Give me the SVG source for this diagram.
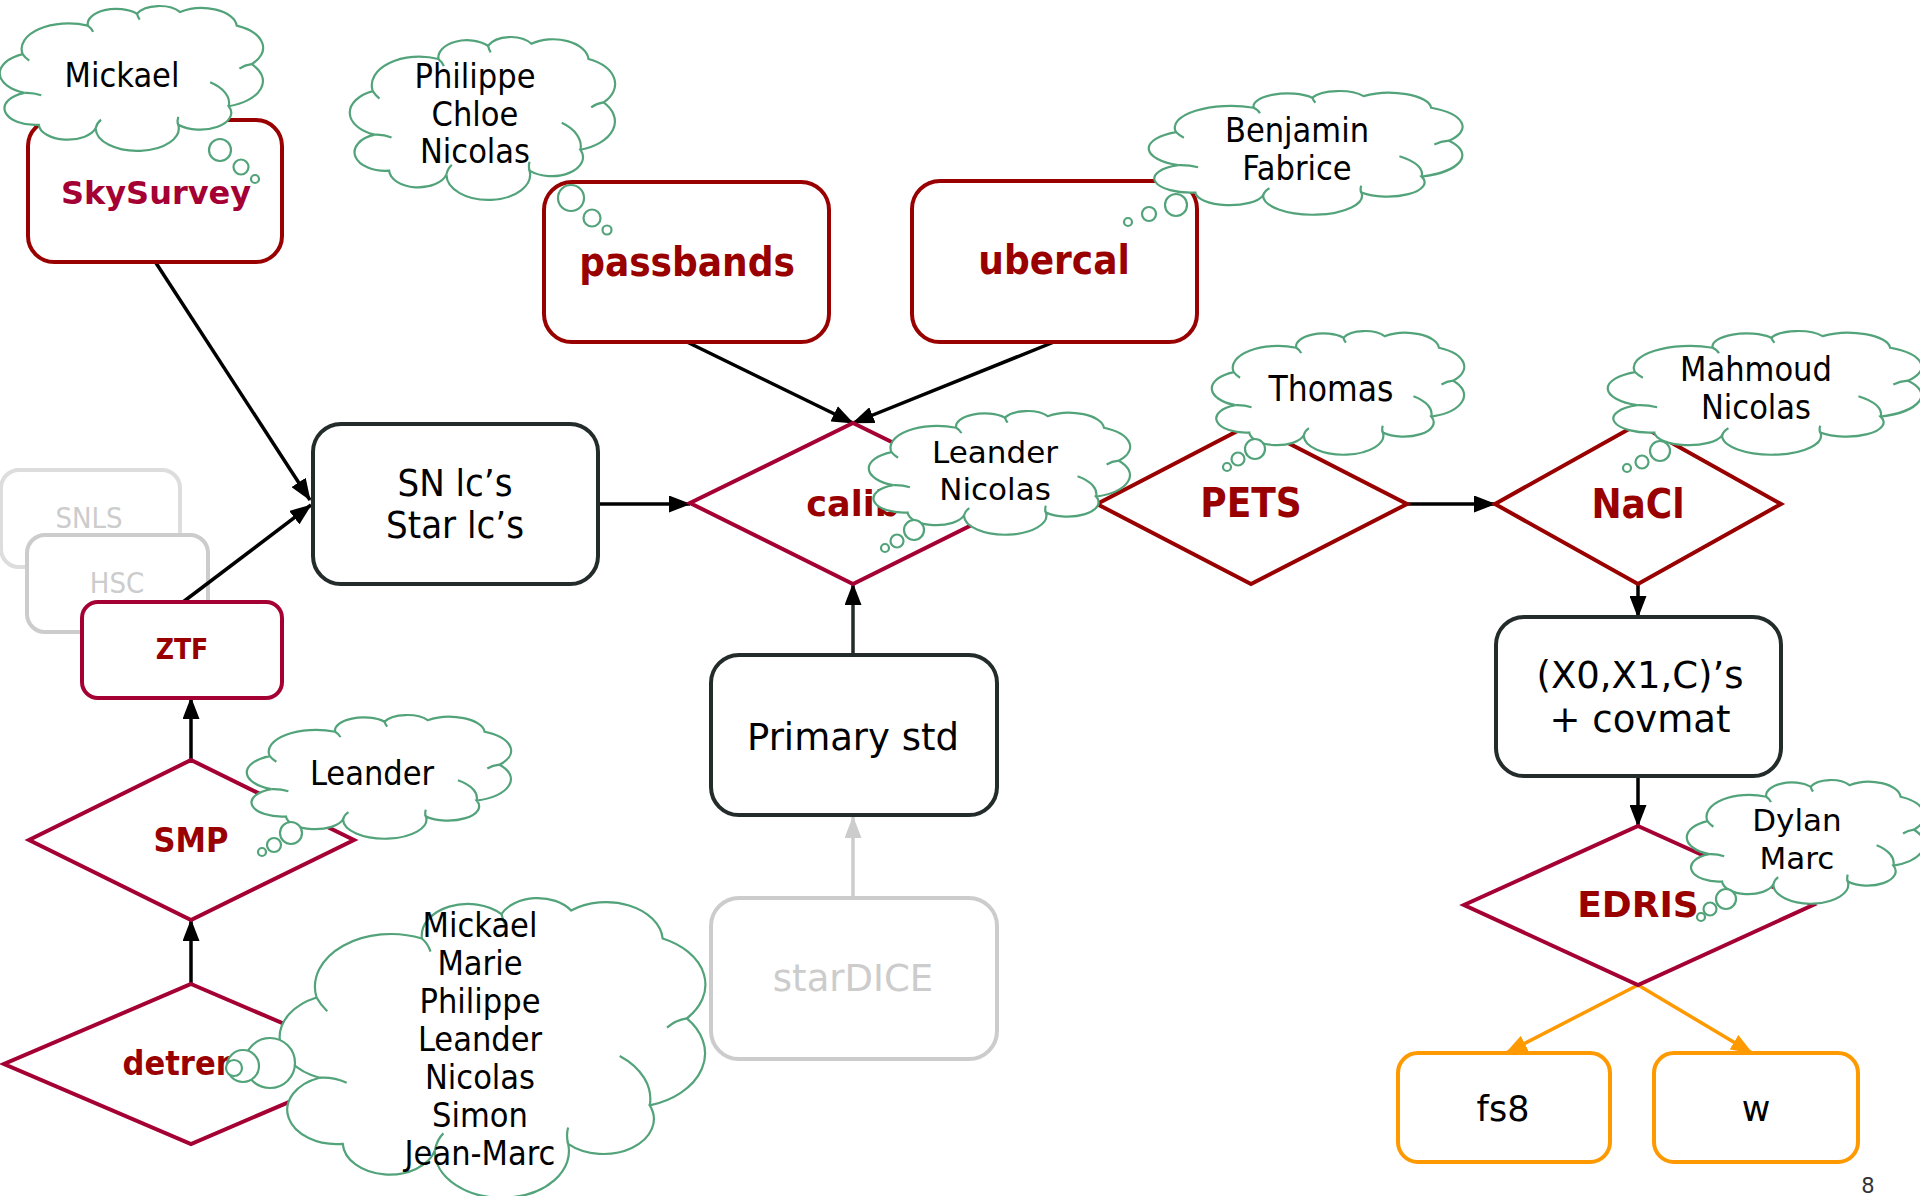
<svg xmlns="http://www.w3.org/2000/svg" xmlns:xlink="http://www.w3.org/1999/xlink" width="1920" height="1196" viewBox="0 0 1920 1196">
  <style>
    .box { fill: #fff; stroke-width: 4; }
    .dark { stroke: #232b2b; }
    .red { stroke: #990000; }
    .crim { stroke: #a50034; }
    .grey { stroke: #cccccc; }
    .orange { stroke: #ff9900; }
    .dia { fill: #fff; stroke-width: 4; stroke-linejoin: miter; }
    .edge { fill: none; stroke: #000; stroke-width: 3.5; }
    .cloud { fill: #fff; stroke: #52a37a; stroke-width: 2.2; vector-effect: non-scaling-stroke; }
    .hook { fill: none; stroke: #52a37a; stroke-width: 2.2; vector-effect: non-scaling-stroke; }
    .bub { fill: #fff; stroke: #52a37a; stroke-width: 2.2; }
    text { text-anchor: middle; }
    .cond { font-family: "DejaVu Sans Condensed", "DejaVu Sans", sans-serif; font-stretch: condensed; fill: #000; }
    .wide { font-family: "DejaVu Sans", sans-serif; fill: #000; }
    .bc { font-family: "DejaVu Sans Condensed", "DejaVu Sans", sans-serif; font-stretch: condensed; font-weight: bold; fill: #990000; }
    .bw { font-family: "DejaVu Sans", sans-serif; font-weight: bold; fill: #990000; }
  </style>
  <defs>
    <!-- cloud outline in a 100x100 unit box -->
    <path id="cloud" class="cloud" d="M8.5,33.4 A17.7,17.7 0 0 1 33,13.6 A10.7,10.7 0 0 1 51.5,5.4 A9.3,9.3 0 0 1 67.7,4.2 A13.2,13.2 0 0 1 89,13.6 A17,17 0 0 1 94.6,40.4 A18.3,18.3 0 0 1 86,69.6 A11.7,11.7 0 0 1 67,82.5 A15.6,15.6 0 1 1 36,84.8 A10.9,10.9 0 0 1 14.6,82.5 A11.5,11.5 0 0 1 9.2,60.3 A14.6,14.6 0 0 1 8.5,33.4 Z"/>
    <!-- inner creases of the cloud -->
    <path id="hooks" class="hook" d="M9.2,60.3 Q12.5,60 15.5,62 M33,13.6 Q34.5,15.5 35,18 M51.5,5.4 Q51.8,7.5 52.5,9.5 M94.6,40.4 Q92,41 90,43.5 M79,53 A18.3,18.3 0 0 1 86,69.6 M67,82.5 Q66.5,79.5 67,77 M36,84.8 Q36.5,81 38,79 M8.5,33.4 Q9.5,36 11,38"/>
    <marker id="ah" viewBox="0 0 22 17" refX="21" refY="8.5" markerWidth="22" markerHeight="17" markerUnits="userSpaceOnUse" orient="auto">
      <path d="M0,0 L22,8.5 L0,17 z" fill="#000"/>
    </marker>
    <marker id="ahg" viewBox="0 0 22 17" refX="21" refY="8.5" markerWidth="22" markerHeight="17" markerUnits="userSpaceOnUse" orient="auto">
      <path d="M0,0 L22,8.5 L0,17 z" fill="#cccccc"/>
    </marker>
    <marker id="aho" viewBox="0 0 22 17" refX="21" refY="8.5" markerWidth="22" markerHeight="17" markerUnits="userSpaceOnUse" orient="auto">
      <path d="M0,0 L22,8.5 L0,17 z" fill="#ff9900"/>
    </marker>
  </defs>

  <rect width="1920" height="1196" fill="#fff"/>

  <!-- greyed-out surveys sit behind the connectors -->
  <g id="node-snls">
    <rect class="box" x="1" y="470" width="179" height="97" rx="18" style="stroke:#dddddd"/>
    <text class="cond" x="89" y="528" font-size="29" style="fill:#cccccc">SNLS</text>
  </g>
  <g id="node-hsc">
    <rect class="box grey" x="27" y="535" width="181" height="97" rx="18"/>
    <text class="cond" x="117" y="593" font-size="29" style="fill:#cccccc">HSC</text>
  </g>

  <!-- connectors -->
  <g id="connectors">
    <line class="edge" x1="156" y1="263" x2="310" y2="500" marker-end="url(#ah)"/>
    <line class="edge" x1="183" y1="602" x2="311" y2="505" marker-end="url(#ah)"/>
    <line class="edge" x1="598" y1="504" x2="690" y2="504" marker-end="url(#ah)"/>
    <line class="edge" x1="687" y1="342" x2="853" y2="423" stroke="#222" marker-end="url(#ah)"/>
    <line class="edge" x1="1054" y1="342" x2="853" y2="423" marker-end="url(#ah)"/>
    <line class="edge" x1="853" y1="655" x2="853" y2="584" style="stroke:#232b2b" marker-end="url(#ah)"/>
    <line class="edge" x1="853" y1="898" x2="853" y2="817" style="stroke:#cccccc" marker-end="url(#ahg)"/>
    <line class="edge" x1="1407" y1="504" x2="1495" y2="504" marker-end="url(#ah)"/>
    <line class="edge" x1="1638" y1="584" x2="1638" y2="617" marker-end="url(#ah)"/>
    <line class="edge" x1="1638" y1="776" x2="1638" y2="826" marker-end="url(#ah)"/>
    <line class="edge" x1="1638" y1="985" x2="1506" y2="1053" style="stroke:#ff9900" marker-end="url(#aho)"/>
    <line class="edge" x1="1638" y1="985" x2="1752" y2="1053" style="stroke:#ff9900" marker-end="url(#aho)"/>
    <line class="edge" x1="191" y1="760" x2="191" y2="698" marker-end="url(#ah)"/>
    <line class="edge" x1="191" y1="984" x2="191" y2="920" marker-end="url(#ah)"/>
  </g>

  <g id="node-ztf">
    <rect class="box crim" x="82" y="602" width="200" height="96" rx="16"/>
    <text class="bc" x="182" y="659" font-size="28">ZTF</text>
  </g>
  <g id="node-skysurvey">
    <rect class="box red" x="28" y="120" width="254" height="142" rx="26"/>
    <text class="bw" x="156" y="204" font-size="32" style="fill:#a50034">SkySurvey</text>
  </g>
  <g id="node-passbands">
    <rect class="box red" x="544" y="182" width="285" height="160" rx="28"/>
    <text class="bc" x="687" y="276" font-size="40">passbands</text>
  </g>
  <g id="node-ubercal">
    <rect class="box red" x="912" y="181" width="285" height="161" rx="28"/>
    <text class="bc" x="1054" y="274" font-size="40">ubercal</text>
  </g>
  <g id="node-lightcurves">
    <rect class="box dark" x="313" y="424" width="285" height="160" rx="28"/>
    <text class="cond" x="455" y="496" font-size="38">SN lc’s</text>
    <text class="cond" x="455" y="538" font-size="38">Star lc’s</text>
  </g>
  <g id="node-calib">
    <polygon class="dia crim" points="853,423 1016,503 853,584 690,503"/>
    <text class="bw" x="853" y="516" font-size="35">calib</text>
  </g>
  <g id="node-primary">
    <rect class="box dark" x="711" y="655" width="286" height="160" rx="28"/>
    <text class="wide" x="853" y="750" font-size="37">Primary std</text>
  </g>
  <g id="node-stardice">
    <rect class="box grey" x="711" y="898" width="286" height="161" rx="28"/>
    <text class="wide" x="853" y="991" font-size="37" style="fill:#cccccc">starDICE</text>
  </g>
  <g id="node-pets">
    <polygon class="dia red" points="1251,424 1407,504 1251,584 1097,504"/>
    <text class="bc" x="1251" y="517" font-size="40">PETS</text>
  </g>
  <g id="node-nacl">
    <polygon class="dia red" points="1638,424 1781,504 1638,584 1495,504"/>
    <text class="bc" x="1638" y="518" font-size="40">NaCl</text>
  </g>
  <g id="node-params">
    <rect class="box dark" x="1496" y="617" width="285" height="159" rx="28"/>
    <text class="wide" x="1640" y="688" font-size="37">(X0,X1,C)’s</text>
    <text class="wide" x="1640" y="732" font-size="37">+ covmat</text>
  </g>
  <g id="node-edris">
    <polygon class="dia crim" points="1638,826 1813,905 1638,985 1464,905"/>
    <text class="bw" x="1638" y="917" font-size="36">EDRIS</text>
  </g>
  <g id="node-fs8">
    <rect class="box orange" x="1398" y="1053" width="212" height="109" rx="20"/>
    <text class="wide" x="1503" y="1121" font-size="35">fs8</text>
  </g>
  <g id="node-w">
    <rect class="box orange" x="1654" y="1053" width="204" height="109" rx="20"/>
    <text class="wide" x="1756" y="1121" font-size="35">w</text>
  </g>
  <g id="node-smp">
    <polygon class="dia crim" points="191,760 354,840 191,920 29,840"/>
    <text class="bc" x="191" y="852" font-size="34">SMP</text>
  </g>
  <g id="node-detrend">
    <polygon class="dia crim" points="191,984 378,1064 191,1144 4,1064"/>
    <text class="bc" x="191" y="1075" font-size="34">detrend</text>
  </g>

  <!-- people attached to each step -->
  <g id="note-skysurvey">
    <use xlink:href="#cloud" transform="translate(0,6) scale(2.66,1.44)"/>
    <use xlink:href="#hooks" transform="translate(0,6) scale(2.66,1.44)"/>
    <circle class="bub" cx="220" cy="150" r="11"/>
    <circle class="bub" cx="241" cy="167" r="7.5"/>
    <circle class="bub" cx="255" cy="179" r="4"/>
    <text class="cond" x="122" y="87" font-size="34">Mickael</text>
  </g>
  <g id="note-passbands">
    <use xlink:href="#cloud" transform="translate(350,37) scale(2.68,1.62)"/>
    <use xlink:href="#hooks" transform="translate(350,37) scale(2.68,1.62)"/>
    <circle class="bub" cx="571" cy="198" r="13"/>
    <circle class="bub" cx="592" cy="218" r="8.5"/>
    <circle class="bub" cx="607" cy="230" r="4.5"/>
    <text class="cond" x="475" y="88" font-size="34">Philippe</text>
    <text class="cond" x="475" y="126" font-size="34">Chloe</text>
    <text class="cond" x="475" y="163" font-size="34">Nicolas</text>
  </g>
  <g id="note-ubercal">
    <use xlink:href="#cloud" transform="translate(1149,91) scale(3.17,1.23)"/>
    <use xlink:href="#hooks" transform="translate(1149,91) scale(3.17,1.23)"/>
    <circle class="bub" cx="1176" cy="205" r="11"/>
    <circle class="bub" cx="1149" cy="214" r="7"/>
    <circle class="bub" cx="1128" cy="222" r="4"/>
    <text class="cond" x="1297" y="142" font-size="34">Benjamin</text>
    <text class="cond" x="1297" y="180" font-size="34">Fabrice</text>
  </g>
  <g id="note-calib">
    <use xlink:href="#cloud" transform="translate(869,411) scale(2.64,1.23)"/>
    <use xlink:href="#hooks" transform="translate(869,411) scale(2.64,1.23)"/>
    <circle class="bub" cx="914" cy="530" r="10"/>
    <circle class="bub" cx="897" cy="541" r="6.5"/>
    <circle class="bub" cx="885" cy="548" r="4"/>
    <text class="wide" x="995" y="463" font-size="31">Leander</text>
    <text class="wide" x="995" y="500" font-size="31">Nicolas</text>
  </g>
  <g id="note-pets">
    <use xlink:href="#cloud" transform="translate(1212,331) scale(2.55,1.23)"/>
    <use xlink:href="#hooks" transform="translate(1212,331) scale(2.55,1.23)"/>
    <circle class="bub" cx="1255" cy="449" r="10"/>
    <circle class="bub" cx="1238" cy="459" r="6.5"/>
    <circle class="bub" cx="1227" cy="467" r="4"/>
    <text class="cond" x="1331" y="401" font-size="35">Thomas</text>
  </g>
  <g id="note-nacl">
    <use xlink:href="#cloud" transform="translate(1608,331) scale(3.17,1.23)"/>
    <use xlink:href="#hooks" transform="translate(1608,331) scale(3.17,1.23)"/>
    <circle class="bub" cx="1660" cy="451" r="10"/>
    <circle class="bub" cx="1642" cy="462" r="6.5"/>
    <circle class="bub" cx="1627" cy="468" r="4"/>
    <text class="cond" x="1756" y="381" font-size="34">Mahmoud</text>
    <text class="cond" x="1756" y="419" font-size="34">Nicolas</text>
  </g>
  <g id="note-edris">
    <use xlink:href="#cloud" transform="translate(1687,780) scale(2.4,1.23)"/>
    <use xlink:href="#hooks" transform="translate(1687,780) scale(2.4,1.23)"/>
    <circle class="bub" cx="1726" cy="899" r="10"/>
    <circle class="bub" cx="1710" cy="909" r="6.5"/>
    <circle class="bub" cx="1701" cy="917" r="4"/>
    <text class="wide" x="1797" y="831" font-size="31">Dylan</text>
    <text class="wide" x="1797" y="869" font-size="31">Marc</text>
  </g>
  <g id="note-smp">
    <use xlink:href="#cloud" transform="translate(247,715) scale(2.67,1.23)"/>
    <use xlink:href="#hooks" transform="translate(247,715) scale(2.67,1.23)"/>
    <circle class="bub" cx="291" cy="833" r="11"/>
    <circle class="bub" cx="274" cy="845" r="7"/>
    <circle class="bub" cx="262" cy="852" r="4"/>
    <text class="cond" x="372" y="785" font-size="34">Leander</text>
  </g>
  <g id="note-detrend">
    <use xlink:href="#cloud" transform="translate(280,898) scale(4.3,2.98)"/>
    <use xlink:href="#hooks" transform="translate(280,898) scale(4.3,2.98)"/>
    <circle class="bub" cx="270" cy="1063" r="25"/>
    <circle class="bub" cx="243" cy="1066" r="16"/>
    <circle class="bub" cx="234" cy="1068" r="8"/>
    <text class="cond" x="480" y="937" font-size="34">Mickael</text>
    <text class="cond" x="480" y="975" font-size="34">Marie</text>
    <text class="cond" x="480" y="1013" font-size="34">Philippe</text>
    <text class="cond" x="480" y="1051" font-size="34">Leander</text>
    <text class="cond" x="480" y="1089" font-size="34">Nicolas</text>
    <text class="cond" x="480" y="1127" font-size="34">Simon</text>
    <text class="cond" x="480" y="1165" font-size="34">Jean-Marc</text>
  </g>

  <text class="wide" x="1868" y="1193" font-size="21" style="fill:#333">8</text>
</svg>
